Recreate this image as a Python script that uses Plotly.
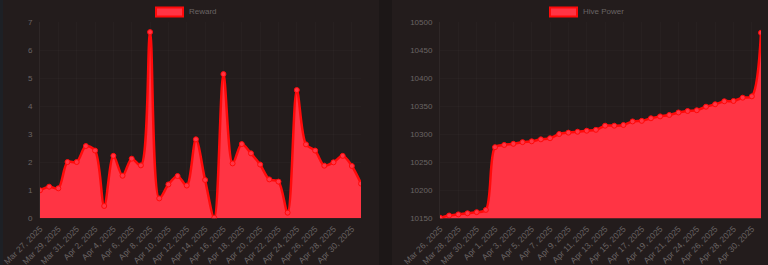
import plotly.graph_objects as go

# ---- data ----
reward_dates = ["Mar 27, 2025", "Mar 28, 2025", "Mar 29, 2025", "Mar 30, 2025", "Mar 31, 2025",
                "Apr 1, 2025", "Apr 2, 2025", "Apr 3, 2025", "Apr 4, 2025", "Apr 5, 2025",
                "Apr 6, 2025", "Apr 7, 2025", "Apr 8, 2025", "Apr 9, 2025", "Apr 10, 2025",
                "Apr 11, 2025", "Apr 12, 2025", "Apr 13, 2025", "Apr 14, 2025", "Apr 15, 2025",
                "Apr 16, 2025", "Apr 17, 2025", "Apr 18, 2025", "Apr 19, 2025", "Apr 20, 2025",
                "Apr 21, 2025", "Apr 22, 2025", "Apr 23, 2025", "Apr 24, 2025", "Apr 25, 2025",
                "Apr 26, 2025", "Apr 27, 2025", "Apr 28, 2025", "Apr 29, 2025", "Apr 30, 2025",
                "May 1, 2025"]
reward_values = [1.0, 1.13, 1.07, 2.01, 2.01, 2.58, 2.42, 0.44, 2.23, 1.52,
                 2.13, 1.89, 6.65, 0.71, 1.21, 1.51, 1.17, 2.82, 1.37, 0.02,
                 5.15, 1.96, 2.65, 2.32, 1.92, 1.39, 1.31, 0.2, 4.58, 2.64,
                 2.42, 1.88, 2.0, 2.23, 1.87, 1.24]

hp_dates = ["Mar 26, 2025", "Mar 27, 2025", "Mar 28, 2025", "Mar 29, 2025", "Mar 30, 2025",
            "Mar 31, 2025", "Apr 1, 2025", "Apr 2, 2025", "Apr 3, 2025", "Apr 4, 2025",
            "Apr 5, 2025", "Apr 6, 2025", "Apr 7, 2025", "Apr 8, 2025", "Apr 9, 2025",
            "Apr 10, 2025", "Apr 11, 2025", "Apr 12, 2025", "Apr 13, 2025", "Apr 14, 2025",
            "Apr 15, 2025", "Apr 16, 2025", "Apr 17, 2025", "Apr 18, 2025", "Apr 19, 2025",
            "Apr 20, 2025", "Apr 21, 2025", "Apr 23, 2025", "Apr 24, 2025", "Apr 25, 2025",
            "Apr 26, 2025", "Apr 27, 2025", "Apr 28, 2025", "Apr 29, 2025", "Apr 30, 2025",
            "May 1, 2025"]
hp_values = [10151, 10155, 10157, 10159, 10161, 10165, 10277, 10281, 10283, 10286,
             10287.5, 10291, 10293, 10300.5, 10303, 10304.6, 10306.4, 10308, 10315.4, 10315.4,
             10316.6, 10323, 10324, 10328.6, 10332, 10334.5, 10339, 10341.6, 10343, 10349.3,
             10353.6, 10359, 10359.5, 10365.4, 10367.8, 10481.4]

reward_ticks = [0, 1, 2, 3, 4, 5, 6, 7]
hp_ticks = [10150, 10200, 10250, 10300, 10350, 10400, 10450, 10500]

W, H = 768, 265
LINE = "#ff0a0a"
FILL = "#ff3444"
TXT = "#6a6464"
GRID = "rgba(255,255,255,0.02)"
PANEL = "#231c1c"
FONT = "Liberation Sans, Arial, sans-serif"


def px(x):
    return x / W


def py(y):
    return 1 - y / H


fig = go.Figure()

for vals, dates, xa, ya in [(reward_values, reward_dates, "x", "y"),
                            (hp_values, hp_dates, "x2", "y2")]:
    fig.add_trace(go.Scatter(
        x=dates, y=vals, xaxis=xa, yaxis=ya,
        mode="lines+markers",
        line=dict(color=LINE, width=2.5, shape="spline", smoothing=0.9),
        marker=dict(size=5, color=FILL, line=dict(color=LINE, width=1)),
        fill="tozeroy", fillcolor=FILL,
        showlegend=False, hoverinfo="skip",
    ))

ydom = [py(218.3), py(22.3)]
common_x = dict(type="category", showgrid=True, gridcolor=GRID, zeroline=False,
                tickangle=-45, tickfont=dict(size=8.5, color=TXT, family=FONT),
                showline=False, ticks="", fixedrange=True, automargin=False,
                ticklabelstandoff=3)
common_y = dict(showgrid=True, gridcolor=GRID, zeroline=False,
                tickfont=dict(size=8, color=TXT, family=FONT), tickformat="d",
                showline=True, linecolor="rgba(255,255,255,0.05)", ticks="",
                ticklabelstandoff=5, fixedrange=True, automargin=False)

fig.update_layout(
    width=W, height=H,
    margin=dict(l=0, r=0, t=0, b=0, autoexpand=False),
    paper_bgcolor="#1c1717",
    plot_bgcolor="rgba(0,0,0,0)",
    xaxis=dict(domain=[px(40), px(361)], range=[0, 35], anchor="y",
               tickvals=reward_dates[::2], **common_x),
    yaxis=dict(domain=ydom, range=[0, 7], anchor="x", tickvals=reward_ticks, **common_y),
    xaxis2=dict(domain=[px(440), px(761)], range=[0, 35], anchor="y2",
                tickvals=hp_dates[::2], **common_x),
    yaxis2=dict(domain=ydom, range=[10150, 10500], anchor="x2", tickvals=hp_ticks,
                **common_y),
    shapes=[
        dict(type="rect", xref="paper", yref="paper", x0=0, x1=px(3), y0=0, y1=1,
             fillcolor="#1d2025", line_width=0, layer="below"),
        dict(type="rect", xref="paper", yref="paper", x0=px(3), x1=px(379), y0=0, y1=1,
             fillcolor=PANEL, line_width=0, layer="below"),
        dict(type="rect", xref="paper", yref="paper", x0=px(392), x1=1, y0=0, y1=1,
             fillcolor=PANEL, line_width=0, layer="below"),
        dict(type="rect", xref="paper", yref="paper", x0=px(156), x1=px(183),
             y0=py(16.5), y1=py(7.5), fillcolor=FILL, line=dict(color=LINE, width=2)),
        dict(type="rect", xref="paper", yref="paper", x0=px(550), x1=px(577),
             y0=py(16.5), y1=py(7.5), fillcolor=FILL, line=dict(color=LINE, width=2)),
    ],
    annotations=[
        dict(text="Reward", xref="paper", yref="paper", x=px(186.5), y=py(12),
             xanchor="left", yanchor="middle", showarrow=False,
             font=dict(size=8, color=TXT, family=FONT)),
        dict(text="Hive Power", xref="paper", yref="paper", x=px(580.5), y=py(12),
             xanchor="left", yanchor="middle", showarrow=False,
             font=dict(size=8, color=TXT, family=FONT)),
    ],
)

fig.write_html("out.html")
